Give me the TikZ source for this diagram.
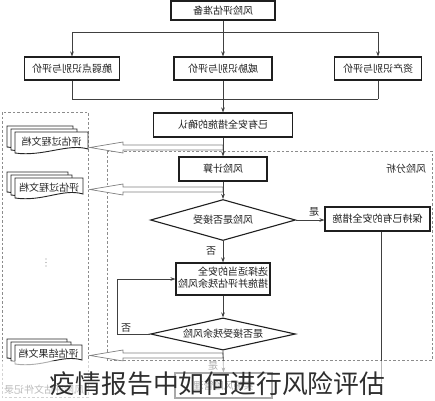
\documentclass[tikz,border=0pt]{standalone}
\usepackage{fontspec}
\usepackage{graphicx}
\setmainfont{Noto Sans CJK SC}
\usetikzlibrary{shapes.geometric,arrows.meta,calc}
\newcommand\mirtxt[1]{\reflectbox{#1}}
\newcommand\docsheet[4]{%
  \filldraw[sheet] ({#1},{#2}) -- ({#3},{#2}) -- ({#3},{#4-4})
    .. controls ({#3-20},{#4-10}) and ({#1+28},{#4+4}) .. ({#1},{#4}) -- cycle;}
\newcommand\hollowarrow[1]{%
  \filldraw[hollow] (90,{#1}) -- (123,{#1-5.5}) -- (123,{#1-2.5}) -- (223,{#1-2.5})
    -- (223,{#1+2.5}) -- (123,{#1+2.5}) -- (123,{#1+5.5}) -- cycle;}
\begin{document}
\begin{tikzpicture}[x=1pt,y=-1pt,
  txt/.style={font=\fontsize{10}{12}\selectfont, text=black!88},
  box/.style={txt, draw=black!88, line width=1.1pt, fill=white, inner sep=0pt},
  dia/.style={txt, diamond, aspect=3.5, draw=black!88, line width=1.1pt, fill=white, inner sep=0pt},
  sheet/.style={draw=black!85, line width=0.9pt, fill=white},
  hollow/.style={draw=black!50, line width=0.7pt, fill=white},
  region/.style={draw=black!45, line width=0.8pt, dash pattern=on 2.5pt off 2pt},
  line/.style={draw=black!75, line width=0.7pt},
  arrow/.style={line, -{Stealth[length=5pt,width=3.6pt]}},
  lab/.style={font=\fontsize{10}{12}\selectfont, text=black!85, inner sep=0pt}
]
\useasboundingbox (0,0) rectangle (435,400);
\fill[white] (0,0) rectangle (435,400);

% dashed regions
\draw[region] (2,112) rectangle (88,397);
\draw[region] (107,151) rectangle (432,360);
\node[lab] (ra) at (406,169) {\mirtxt{风险分析}};

% hollow arrows to documents
\hollowarrow{147.5}
\hollowarrow{189.5}
\hollowarrow{355.5}

% document stacks
\foreach \ty/\rx/\h/\nm/\tx in {132/88/21/doca/评估过程文档, 178/83/20/docb/评估过程文档, 345/82/19/docc/评估结果文档}{
  \docsheet{7}{\ty-6}{\rx-15}{\ty+\h-6}
  \docsheet{11}{\ty-3}{\rx-11}{\ty+\h-3}
  \docsheet{15}{\ty}{\rx}{\ty+\h}
  \node[lab] (\nm) at ({(15+\rx)/2},{\ty+\h/2-0.5}) {\mirtxt{\tx}};
}
\foreach \yy in {259,262.5,266} \fill[black!45] (46,\yy) circle (0.7);
\node[lab, text=black!70] (rec) at (44,390) {\mirtxt{风险评估文件记录}};

% top part
\node[box, minimum width=104, minimum height=19] (prep) at (223,10.5) {\mirtxt{风险评估准备}};
\node[box, minimum width=95, minimum height=23] (idv) at (72,68.5) {\mirtxt{脆弱点识别与评价}};
\node[box, minimum width=98, minimum height=23] (idt) at (223,68.5) {\mirtxt{威胁识别与评价}};
\node[box, minimum width=87, minimum height=23] (ida) at (378,68.5) {\mirtxt{资产识别与评价}};
\coordinate (tl) at (0,32);
\coordinate (bl) at (0,99);
\draw[line] (prep.south) -- (prep.south |- tl);
\draw[line] (idv.north |- tl) -- (ida.north |- tl);
\foreach \n in {idv,idt,ida} \draw[arrow] (\n.north |- tl) -- (\n.north);
\foreach \n in {idv,idt,ida} \draw[line] (\n.south) -- (\n.south |- bl);
\draw[line] (idv.south |- bl) -- (ida.south |- bl);

\node[box, minimum width=139, minimum height=24] (confirm) at (223,125) {\mirtxt{已有安全措施的确认}};
\draw[arrow] (confirm.north |- bl) -- (confirm.north);
\node[box, minimum width=88, minimum height=24] (calc) at (223,169) {\mirtxt{风险计算}};
\draw[arrow] (confirm.south) -- (calc.north);
\node[dia, minimum width=145, minimum height=41] (dia1) at (223,220) {\mirtxt{风险是否接受}};
\draw[arrow] (calc.south) -- (dia1.north);
\node[box, minimum width=105, minimum height=24] (keep) at (377.5,219) {\mirtxt{保持已有的安全措施}};
\draw[arrow] (dia1.east) -- (dia1.east -| keep.west);
\node[lab] (yes1) at (314,212) {\mirtxt{是}};
\node[lab] (no1) at (211,251) {\mirtxt{否}};
\node[box, minimum width=94, minimum height=32] (select) at (223,279)
  {\mirtxt{\begin{tabular}{@{}l@{}}选择适当的安全\\[-1pt]措施并评估残余风险\end{tabular}}};
\draw[arrow] (dia1.south) -- (select.north);
\node[dia, minimum width=145, minimum height=32] (dia2) at (223,334) {\mirtxt{是否接受残余风险}};
\draw[arrow] (select.south) -- (dia2.north);
\coordinate (lp) at (117,334);
\draw[arrow] (dia2.west) -- (lp) |- (select.west);
\node[lab] (no2) at (126,328) {\mirtxt{否}};

% bottom part (partly under caption band)
\node[box, minimum width=97, minimum height=25] (impl) at (223.5,385.5) {\mirtxt{实施风险管理}};
\draw[arrow] (dia2.south) -- (impl.north);
\node[lab] (yes2) at (213,366) {\mirtxt{是}};
\coordinate (kend) at (381,383);
\draw[line] (keep.south -| kend) -- (kend);

% caption band
\fill[white, opacity=0.62] (0,361) rectangle (435,400);
\node[inner sep=0pt, font=\fontsize{25.8}{28}\selectfont, text=black!82] (caption) at (217.5,383.5) {疫情报告中如何进行风险评估};
\end{tikzpicture}
\end{document}
